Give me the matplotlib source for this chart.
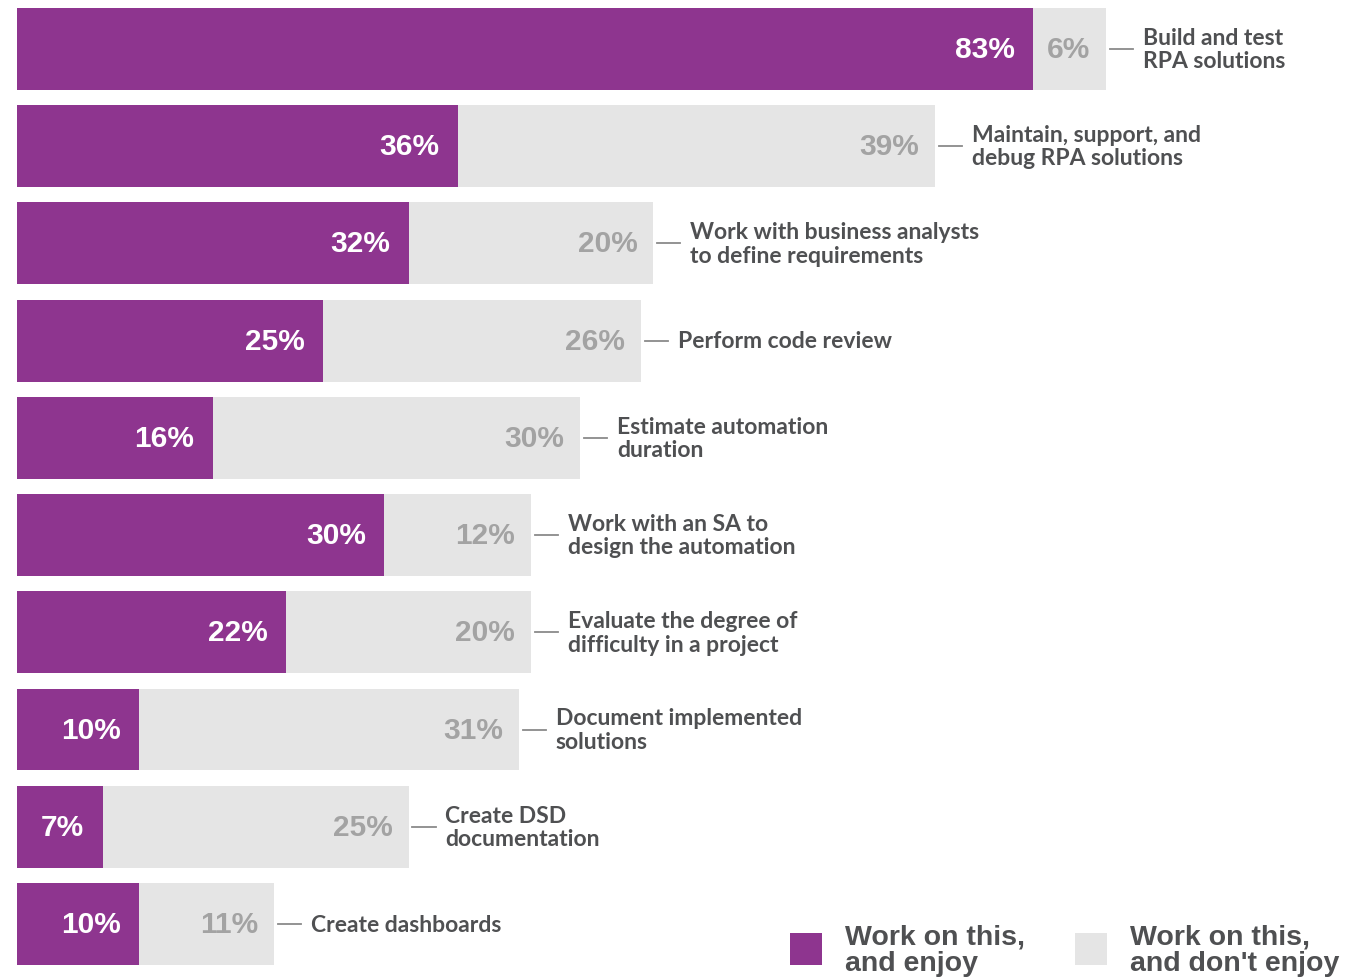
import matplotlib
matplotlib.use("Agg")
import matplotlib.pyplot as plt
from matplotlib.patches import Rectangle

# data
tasks = [
    "Build and test\nRPA solutions",
    "Maintain, support, and\ndebug RPA solutions",
    "Work with business analysts\nto define requirements",
    "Perform code review",
    "Estimate automation\nduration",
    "Work with an SA to\ndesign the automation",
    "Evaluate the degree of\ndifficulty in a project",
    "Document implemented\nsolutions",
    "Create DSD\ndocumentation",
    "Create dashboards",
]
enjoy = [83, 36, 32, 25, 16, 30, 22, 10, 7, 10]
not_enjoy = [6, 39, 20, 26, 30, 12, 20, 31, 25, 11]

PURPLE = "#8E358F"
LIGHT = "#E5E5E5"
GRAY_TXT = "#A3A3A3"
DARK_TXT = "#4F5052"

W, H = 1356, 979
fig = plt.figure(figsize=(W / 100, H / 100), dpi=100)
ax = fig.add_axes([17 / W, 0, 1 - 17 / W, 1])
ax.set_xlim(0, (W - 17) / 12.24)
ax.set_ylim(9.555, -0.513)
ax.axis("off")

y = list(range(len(tasks)))
ax.barh(y, enjoy, height=0.842, color=PURPLE, linewidth=0)
ax.barh(y, not_enjoy, left=enjoy, height=0.842, color=LIGHT, linewidth=0)

for i, (a, b, name) in enumerate(zip(enjoy, not_enjoy, tasks)):
    end = a + b
    ax.text(a - 1.5, i, f"{a}%", ha="right", va="center", color="white",
            fontsize=21.5, fontweight="bold", family="Liberation Sans")
    ax.text(end - 1.3, i, f"{b}%", ha="right", va="center", color=GRAY_TXT,
            fontsize=21.5, fontweight="bold", family="Liberation Sans")
    ax.plot([end + 0.3, end + 2.2], [i, i], color="#8A8A8A", lw=1.3)
    ax.text(end + 3.0, i, name, ha="left", va="center", color=DARK_TXT,
            fontsize=16.5, fontweight="bold", family="Lato",
            linespacing=1.15)

# legend
for x0, col, label in [(790, PURPLE, "Work on this,\nand enjoy"),
                       (1075, LIGHT, "Work on this,\nand don't enjoy")]:
    fig.add_artist(Rectangle((x0 / W, 1 - 966 / H), 32 / W, 32 / H,
                             transform=fig.transFigure, color=col, lw=0))
    fig.text((x0 + 55) / W, 1 - 951 / H, label, ha="left", va="center",
             color=DARK_TXT, fontsize=20.5, fontweight="bold",
             family="Liberation Sans", linespacing=1.0)

fig.savefig("out.png", dpi=100)
